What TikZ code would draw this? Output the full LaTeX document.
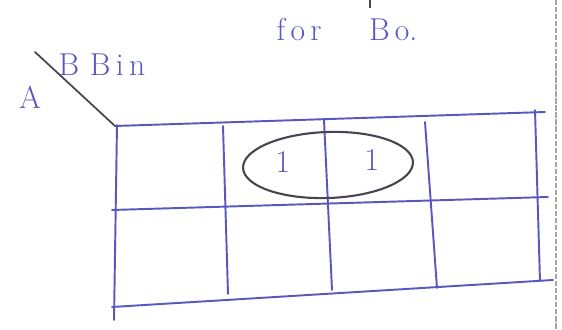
\documentclass[tikz,border=0pt]{standalone}
\usetikzlibrary{shapes.geometric}
\definecolor{InkBlue}{RGB}{88,88,190}
\definecolor{PencilGray}{RGB}{70,70,80}
\tikzset{
  gridline/.style={draw=InkBlue, line width=1.1pt, line cap=round},
  handtext/.style={text=InkBlue, font=\fontsize{18}{20}\selectfont},
  loopline/.style={draw=PencilGray, line width=1.2pt},
  cornerline/.style={draw=PencilGray, line width=1pt, line cap=round}
}

\begin{document}
\begin{tikzpicture}[x=0.02cm,y=-0.02cm]
  \useasboundingbox (0,0) rectangle (562,330);

  % page edge of the scan
  \draw[gray!70, line width=1.2pt, dash pattern=on 3pt off 1pt] (556,0) -- (556,330);
  \draw[PencilGray, line width=0.8pt] (370,0) -- (370,8);

  % grid corners
  \coordinate (tl) at (115,126);  \coordinate (tr) at (545,112);
  \coordinate (ml) at (112,210);  \coordinate (mr) at (548,197);
  \coordinate (bl) at (112,307);  \coordinate (br) at (553,280);

  \draw[gridline] (tl) -- (tr);
  \draw[gridline] (ml) -- (mr);
  \draw[gridline] (bl) -- (br);

  \foreach \name/\xa/\ya/\xb/\yb in {c1/117/125/114/320, c2/223/126/228/294,
      c3/324/120/332/290, c4/425/122/437/288, c5/535/110/540/281}{
    \coordinate (\name top) at (\xa,\ya);
    \coordinate (\name bot) at (\xb,\yb);
    \draw[gridline] (\name top) -- (\name bot);
  }

  % corner label
  \coordinate (slash) at (35,52);
  \draw[cornerline] (slash) -- (tl);
  \node[handtext] (rowvar) at (30,97) {A};
  \node[handtext] (colvar) at (102,65) {B\,\,B\,i\,n};
  \node[handtext] (title) at (347,30) {f\,o\,r\quad\enspace B\,o.};

  % ones and their group
  \node[handtext] (one1) at (283,162) {1};
  \node[handtext] (one2) at (372,160) {1};
  \node[loopline, ellipse, minimum width=170*0.02cm, minimum height=66*0.02cm,
    rotate=2] (group) at (328,165) {};
\end{tikzpicture}
\end{document}
